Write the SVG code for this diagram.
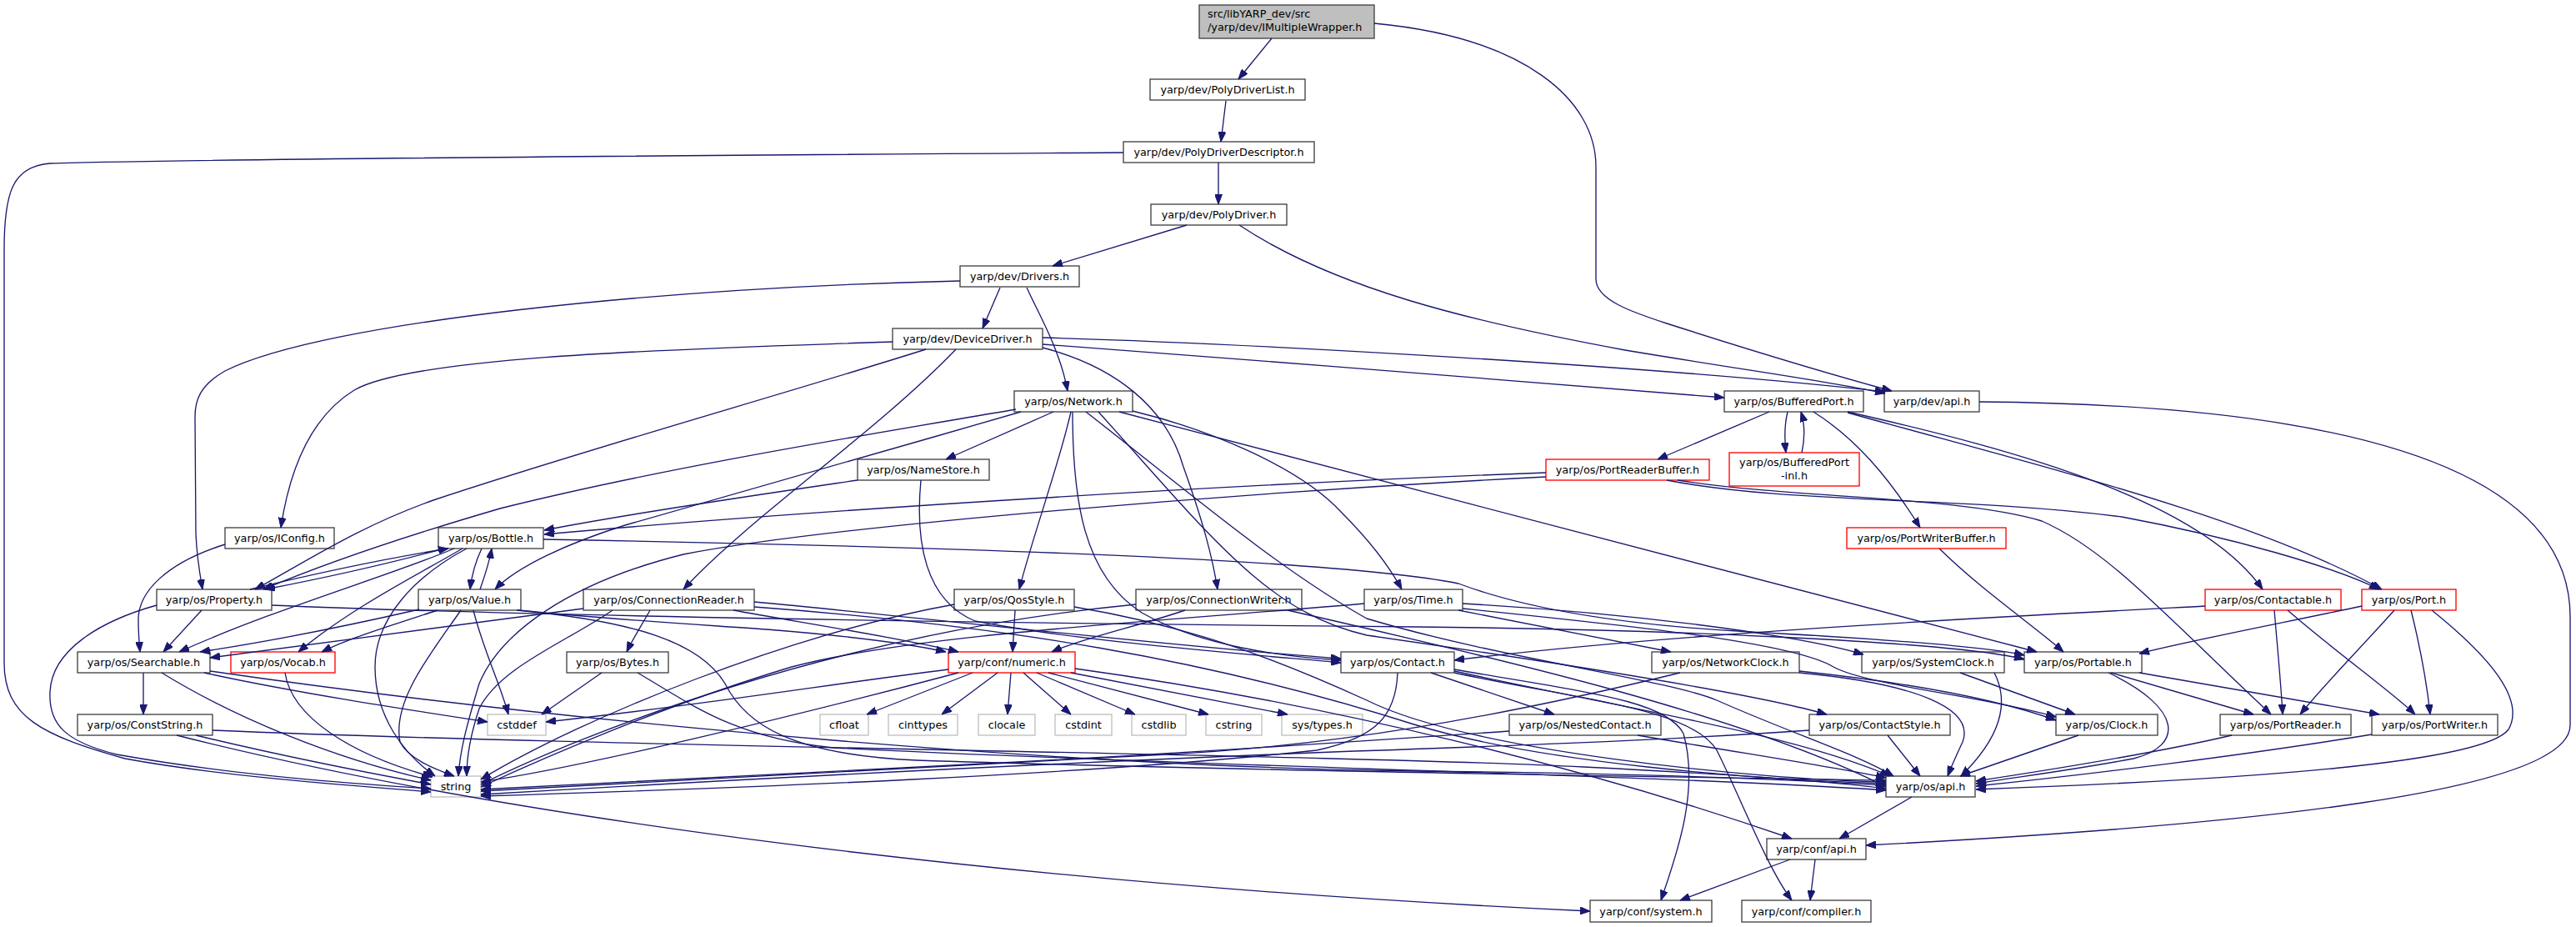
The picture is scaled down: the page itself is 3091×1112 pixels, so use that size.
<svg xmlns="http://www.w3.org/2000/svg" width="3091" height="1112" viewBox="0 0 3091 1112">
<defs>
<marker id="a" markerUnits="userSpaceOnUse" markerWidth="12" markerHeight="9" viewBox="0 0 12 9" refX="12" refY="4.5" orient="auto"><path d="M0,0 L12,4.5 L0,9 z" fill="#191970" stroke="#191970" stroke-width="1"/></marker>
</defs>
<style>
rect{fill:#ffffff;stroke:#404040;stroke-width:1.33}
.r rect{stroke:#ff0000}
.s rect{stroke:#bfbfbf}
.root rect{fill:#bfbfbf}
text{font-family:"DejaVu Sans","Liberation Sans",sans-serif;font-size:12.8px;fill:#000000;text-anchor:middle}
.root text{text-anchor:start}
#edges path{fill:none;stroke:#191970;stroke-width:1.33;marker-end:url(#a)}
</style>
<rect x="0" y="0" width="3091" height="1112" style="fill:#ffffff;stroke:none"/>
<g id="nodes">
<g id="root" class="root"><rect x="1439" y="6" width="210" height="40"/><text x="1449" y="21">src/libYARP_dev/src</text><text x="1449" y="37">/yarp/dev/IMultipleWrapper.h</text></g>
<g id="PDL" class="n"><rect x="1380" y="95" width="186" height="25"/><text x="1473" y="112">yarp/dev/PolyDriverList.h</text></g>
<g id="PDD" class="n"><rect x="1348" y="170" width="229" height="25"/><text x="1462.5" y="187">yarp/dev/PolyDriverDescriptor.h</text></g>
<g id="PD" class="n"><rect x="1381" y="245" width="163" height="25"/><text x="1462.5" y="262">yarp/dev/PolyDriver.h</text></g>
<g id="DRV" class="n"><rect x="1152" y="319" width="143" height="25"/><text x="1223.5" y="336">yarp/dev/Drivers.h</text></g>
<g id="DD" class="n"><rect x="1071" y="394" width="180" height="25"/><text x="1161" y="411">yarp/dev/DeviceDriver.h</text></g>
<g id="NET" class="n"><rect x="1217" y="469" width="142" height="25"/><text x="1288" y="486">yarp/os/Network.h</text></g>
<g id="BP" class="n"><rect x="2069" y="469" width="167" height="25"/><text x="2152.5" y="486">yarp/os/BufferedPort.h</text></g>
<g id="DAPI" class="n"><rect x="2261" y="469" width="114" height="25"/><text x="2318" y="486">yarp/dev/api.h</text></g>
<g id="NS" class="n"><rect x="1029" y="551" width="158" height="25"/><text x="1108" y="568">yarp/os/NameStore.h</text></g>
<g id="PRB" class="r"><rect x="1855" y="551" width="196" height="25"/><text x="1953" y="568">yarp/os/PortReaderBuffer.h</text></g>
<g id="BPI" class="r"><rect x="2075" y="543" width="156" height="40"/><text x="2153" y="559">yarp/os/BufferedPort</text><text x="2153" y="575">-inl.h</text></g>
<g id="IC" class="n"><rect x="270" y="633" width="131" height="25"/><text x="335.5" y="650">yarp/os/IConfig.h</text></g>
<g id="BOT" class="n"><rect x="526" y="633" width="126" height="25"/><text x="589" y="650">yarp/os/Bottle.h</text></g>
<g id="PWB" class="r"><rect x="2216" y="633" width="191" height="25"/><text x="2311.5" y="650">yarp/os/PortWriterBuffer.h</text></g>
<g id="PROP" class="n"><rect x="188" y="707" width="138" height="25"/><text x="257" y="724">yarp/os/Property.h</text></g>
<g id="VAL" class="n"><rect x="502" y="707" width="123" height="25"/><text x="563.5" y="724">yarp/os/Value.h</text></g>
<g id="CR" class="n"><rect x="700" y="707" width="205" height="25"/><text x="802.5" y="724">yarp/os/ConnectionReader.h</text></g>
<g id="QOS" class="n"><rect x="1145" y="707" width="144" height="25"/><text x="1217" y="724">yarp/os/QosStyle.h</text></g>
<g id="CW" class="n"><rect x="1363" y="707" width="199" height="25"/><text x="1462.5" y="724">yarp/os/ConnectionWriter.h</text></g>
<g id="TIME" class="n"><rect x="1637" y="707" width="118" height="25"/><text x="1696" y="724">yarp/os/Time.h</text></g>
<g id="CTB" class="r"><rect x="2646" y="707" width="163" height="25"/><text x="2727.5" y="724">yarp/os/Contactable.h</text></g>
<g id="PORT" class="r"><rect x="2834" y="707" width="113" height="25"/><text x="2890.5" y="724">yarp/os/Port.h</text></g>
<g id="SRCH" class="n"><rect x="93" y="782" width="159" height="25"/><text x="172.5" y="799">yarp/os/Searchable.h</text></g>
<g id="VOC" class="r"><rect x="277" y="782" width="125" height="25"/><text x="339.5" y="799">yarp/os/Vocab.h</text></g>
<g id="BYT" class="n"><rect x="680" y="782" width="122" height="25"/><text x="741" y="799">yarp/os/Bytes.h</text></g>
<g id="NUM" class="r"><rect x="1138" y="782" width="152" height="25"/><text x="1214" y="799">yarp/conf/numeric.h</text></g>
<g id="CON" class="n"><rect x="1609" y="782" width="136" height="25"/><text x="1677" y="799">yarp/os/Contact.h</text></g>
<g id="NC" class="n"><rect x="1982" y="782" width="177" height="25"/><text x="2070.5" y="799">yarp/os/NetworkClock.h</text></g>
<g id="SC" class="n"><rect x="2234" y="782" width="171" height="25"/><text x="2319.5" y="799">yarp/os/SystemClock.h</text></g>
<g id="PTB" class="n"><rect x="2429" y="782" width="141" height="25"/><text x="2499.5" y="799">yarp/os/Portable.h</text></g>
<g id="CS" class="n"><rect x="93" y="857" width="162" height="25"/><text x="174" y="874">yarp/os/ConstString.h</text></g>
<g id="CSTDDEF" class="s"><rect x="585" y="857" width="70" height="25"/><text x="620" y="874">cstddef</text></g>
<g id="CFLOAT" class="s"><rect x="984" y="857" width="58" height="25"/><text x="1013" y="874">cfloat</text></g>
<g id="CINT" class="s"><rect x="1066" y="857" width="83" height="25"/><text x="1107.5" y="874">cinttypes</text></g>
<g id="CLOC" class="s"><rect x="1174" y="857" width="68" height="25"/><text x="1208" y="874">clocale</text></g>
<g id="CSTDINT" class="s"><rect x="1266" y="857" width="68" height="25"/><text x="1300" y="874">cstdint</text></g>
<g id="CSTDLIB" class="s"><rect x="1358" y="857" width="65" height="25"/><text x="1390.5" y="874">cstdlib</text></g>
<g id="CSTRING" class="s"><rect x="1447" y="857" width="67" height="25"/><text x="1480.5" y="874">cstring</text></g>
<g id="SYST" class="s"><rect x="1538" y="857" width="97" height="25"/><text x="1586.5" y="874">sys/types.h</text></g>
<g id="NEST" class="n"><rect x="1811" y="857" width="182" height="25"/><text x="1902" y="874">yarp/os/NestedContact.h</text></g>
<g id="CSTY" class="n"><rect x="2171" y="857" width="169" height="25"/><text x="2255.5" y="874">yarp/os/ContactStyle.h</text></g>
<g id="CLK" class="n"><rect x="2467" y="857" width="122" height="25"/><text x="2528" y="874">yarp/os/Clock.h</text></g>
<g id="PR" class="n"><rect x="2664" y="857" width="157" height="25"/><text x="2742.5" y="874">yarp/os/PortReader.h</text></g>
<g id="PW" class="n"><rect x="2846" y="857" width="151" height="25"/><text x="2921.5" y="874">yarp/os/PortWriter.h</text></g>
<g id="STR" class="s"><rect x="517" y="931" width="60" height="25"/><text x="547" y="948">string</text></g>
<g id="OSAPI" class="n"><rect x="2263" y="931" width="107" height="25"/><text x="2316.5" y="948">yarp/os/api.h</text></g>
<g id="CAPI" class="n"><rect x="2120" y="1006" width="119" height="25"/><text x="2179.5" y="1023">yarp/conf/api.h</text></g>
<g id="SYS" class="n"><rect x="1908" y="1080" width="146" height="26"/><text x="1981" y="1098">yarp/conf/system.h</text></g>
<g id="COMP" class="n"><rect x="2090" y="1080" width="155" height="26"/><text x="2167.5" y="1098">yarp/conf/compiler.h</text></g>
</g>
<g id="edges">
<path d="M1526,46 L1486,95"/>
<path d="M1649,28 C1830,45 1915,120 1915,200 L1915,335 C1915,360 1960,375 2000,388 C2100,420 2200,450 2270,469"/>
<path d="M1471,121 L1465,170"/>
<path d="M1462,195 L1462,245"/>
<path d="M1348,183 C900,186 250,190 60,196 C15,200 5,230 5,300 L5,795 C5,860 50,882 150,910 C270,932 420,942 517,950"/>
<path d="M1424,270 L1263,319"/>
<path d="M1487,270 C1600,345 1760,385 1950,420 C2100,445 2200,458 2262,472"/>
<path d="M1200,345 L1179,394"/>
<path d="M1232,345 C1248,380 1272,420 1281,469"/>
<path d="M1152,337 C800,345 390,385 270,445 C240,462 234,480 234,500 L235,640 C236,668 240,690 243,707"/>
<path d="M1071,410 C850,418 500,425 425,468 C365,505 345,580 337,633"/>
<path d="M1111,419 C950,470 700,540 520,600 C430,632 370,672 306,707"/>
<path d="M1147,419 C1050,520 900,620 820,707"/>
<path d="M1251,417 C1340,440 1400,490 1420,560 C1445,630 1455,670 1461,707"/>
<path d="M1251,413 C1500,432 1900,462 2069,477"/>
<path d="M1251,405 C1500,412 2000,440 2262,470"/>
<path d="M1264,494 L1135,551"/>
<path d="M1219,491 C1050,520 800,560 600,610 C480,645 380,680 316,707"/>
<path d="M1225,494 C1050,545 850,600 750,630 C680,652 620,680 594,707"/>
<path d="M1285,494 C1270,560 1240,640 1223,707"/>
<path d="M1287,494 C1287,600 1300,690 1370,735 C1440,775 1540,788 1609,792"/>
<path d="M1359,493 C1450,515 1560,560 1610,615 C1650,655 1670,685 1682,707"/>
<path d="M1343,494 C1700,590 2200,715 2444,782"/>
<path d="M1303,494 C1420,585 1530,680 1640,742 C1800,790 2000,815 2060,840 C2150,880 2230,905 2272,931"/>
<path d="M1318,494 C1450,640 1520,735 1640,762 C1800,785 2100,830 2192,857"/>
<path d="M1029,576 C920,592 760,615 653,636"/>
<path d="M1105,576 C1098,650 1110,720 1170,745 C1300,770 1500,785 1609,795"/>
<path d="M2123,494 L1989,551"/>
<path d="M2145,494 C2141,510 2141,525 2143,543"/>
<path d="M2162,543 C2166,525 2166,510 2161,494"/>
<path d="M2176,494 C2225,525 2265,570 2304,633"/>
<path d="M2217,494 C2420,540 2640,600 2715,707"/>
<path d="M2217,495 C2450,560 2700,620 2858,707"/>
<path d="M2375,482 C2750,485 3084,540 3084,740 L3084,870 C3084,950 2700,990 2239,1014"/>
<path d="M1855,567 C1500,580 1000,610 653,641"/>
<path d="M1855,572 C1500,590 1000,630 820,665 C680,700 600,760 575,820 C560,870 552,900 550,931"/>
<path d="M2013,576 C2150,598 2350,595 2450,625 C2530,660 2600,740 2725,857"/>
<path d="M2000,576 C2150,605 2350,595 2546,620 C2680,645 2800,680 2855,707"/>
<path d="M270,653 C200,675 165,710 166,745 C166,760 167,770 168,782"/>
<path d="M533,658 C470,675 380,695 318,707"/>
<path d="M300,707 C370,690 450,672 538,658"/>
<path d="M578,658 C570,675 566,690 564,707"/>
<path d="M576,707 C582,690 587,675 590,658"/>
<path d="M545,658 C470,690 330,730 215,782"/>
<path d="M555,658 C500,690 420,730 358,782"/>
<path d="M560,658 C500,690 450,740 450,800 C450,860 485,905 522,931"/>
<path d="M652,647 C1100,655 1600,670 1750,700 C1830,730 1950,750 2100,758 C2250,766 2380,775 2429,786"/>
<path d="M242,732 L196,782"/>
<path d="M188,726 C120,745 62,780 60,830 C58,870 80,890 140,905 C280,930 420,940 517,946"/>
<path d="M326,726 C600,738 1200,748 1700,752 C2000,755 2350,770 2429,791"/>
<path d="M503,731 C420,750 320,770 240,782"/>
<path d="M525,732 C470,750 420,765 386,782"/>
<path d="M553,732 C520,780 470,840 480,890 C490,910 520,922 545,931"/>
<path d="M568,732 C580,780 600,820 610,857"/>
<path d="M622,732 C720,742 820,748 920,755 C1020,763 1090,772 1135,782"/>
<path d="M620,732 C760,745 840,770 870,820 C895,870 950,905 1100,912 C1500,925 2000,932 2263,936"/>
<path d="M780,732 C770,750 760,765 752,782"/>
<path d="M905,722 C1100,740 1400,775 1609,790"/>
<path d="M880,732 C950,745 1080,765 1150,782"/>
<path d="M735,732 C680,770 600,800 575,850 C565,880 560,905 560,931"/>
<path d="M700,730 C550,750 400,770 252,789"/>
<path d="M905,728 C1200,750 1450,790 1700,870 C1850,915 2100,935 2263,940"/>
<path d="M1218,732 L1215,782"/>
<path d="M1145,725 C950,760 700,860 577,935"/>
<path d="M1289,728 C1420,750 1520,785 1640,840 C1760,900 2100,935 2263,938"/>
<path d="M1422,732 C1370,750 1300,765 1262,782"/>
<path d="M1363,725 C1000,760 700,880 577,941"/>
<path d="M1545,732 C1800,790 2100,860 2263,944"/>
<path d="M1750,732 L2005,782"/>
<path d="M1755,724 C1950,735 2150,760 2236,785"/>
<path d="M1755,730 C1950,750 2150,770 2200,800 C2240,822 2380,835 2467,860"/>
<path d="M1637,724 C1400,745 1100,760 950,800 C800,845 650,910 577,944"/>
<path d="M2646,727 C2400,740 2000,760 1745,792"/>
<path d="M2729,732 C2733,780 2737,820 2739,857"/>
<path d="M2745,732 C2800,780 2870,830 2898,857"/>
<path d="M2834,727 C2750,745 2620,770 2567,784"/>
<path d="M2873,732 C2830,780 2790,820 2760,857"/>
<path d="M2893,732 C2905,780 2912,820 2916,857"/>
<path d="M2918,732 C2990,790 3030,840 3010,875 C2980,915 2700,935 2371,947"/>
<path d="M2530,807 C2620,850 2620,895 2560,910 C2480,925 2420,932 2371,940"/>
<path d="M2533,807 L2704,857"/>
<path d="M2567,807 L2855,857"/>
<path d="M2678,882 C2580,905 2450,925 2371,937"/>
<path d="M2846,881 C2700,905 2500,930 2371,943"/>
<path d="M2494,882 L2352,931"/>
<path d="M2352,807 L2490,857"/>
<path d="M2393,807 C2410,840 2405,880 2353,931"/>
<path d="M2159,805 C2300,820 2400,840 2467,864"/>
<path d="M2159,807 C2300,820 2370,850 2355,890 C2348,905 2342,918 2337,931"/>
<path d="M2016,807 C1800,860 1600,895 1400,905 C1000,925 700,940 577,949"/>
<path d="M2265,882 L2304,931"/>
<path d="M2171,876 C2000,888 1800,895 1600,902 C1200,918 800,940 577,953"/>
<path d="M1965,882 C2100,905 2200,920 2263,933"/>
<path d="M1811,877 C1650,888 1400,905 1200,915 C900,930 700,942 577,947"/>
<path d="M1717,807 L1865,857"/>
<path d="M1677,807 C1675,860 1650,885 1580,900 C1300,930 900,945 577,955"/>
<path d="M1745,803 C1900,830 2000,840 2020,880 C2040,950 2010,1030 1993,1080"/>
<path d="M1745,807 C1900,840 2030,850 2060,900 C2090,960 2120,1040 2150,1080"/>
<path d="M1745,805 C1950,850 2150,880 2268,931"/>
<path d="M172,807 L172,857"/>
<path d="M194,807 C280,860 400,910 517,936"/>
<path d="M245,807 C350,830 480,850 585,866"/>
<path d="M252,805 C700,870 1300,920 1700,925 C2000,928 2150,935 2263,942"/>
<path d="M255,876 C700,895 1600,905 1900,920 C2100,930 2200,938 2263,946"/>
<path d="M235,882 C330,905 430,925 517,941"/>
<path d="M212,882 C600,980 1200,1060 1908,1093"/>
<path d="M342,807 C350,860 420,905 519,932"/>
<path d="M722,807 L650,857"/>
<path d="M765,807 C830,845 880,885 1000,897 C1400,918 2000,930 2263,948"/>
<path d="M1167,807 L1040,857"/>
<path d="M1197,807 L1130,857"/>
<path d="M1213,807 L1209,857"/>
<path d="M1228,807 L1285,857"/>
<path d="M1244,807 L1362,857"/>
<path d="M1258,807 L1450,857"/>
<path d="M1285,807 L1545,857"/>
<path d="M1138,803 C1000,820 850,845 655,866"/>
<path d="M1150,807 C950,860 700,920 577,938"/>
<path d="M1290,802 C1600,845 1900,920 2150,1006"/>
<path d="M2294,956 L2207,1006"/>
<path d="M2148,1031 L2016,1080"/>
<path d="M2178,1031 L2172,1080"/>
<path d="M2327,658 C2380,710 2440,750 2476,782"/>
</g>
</svg>
